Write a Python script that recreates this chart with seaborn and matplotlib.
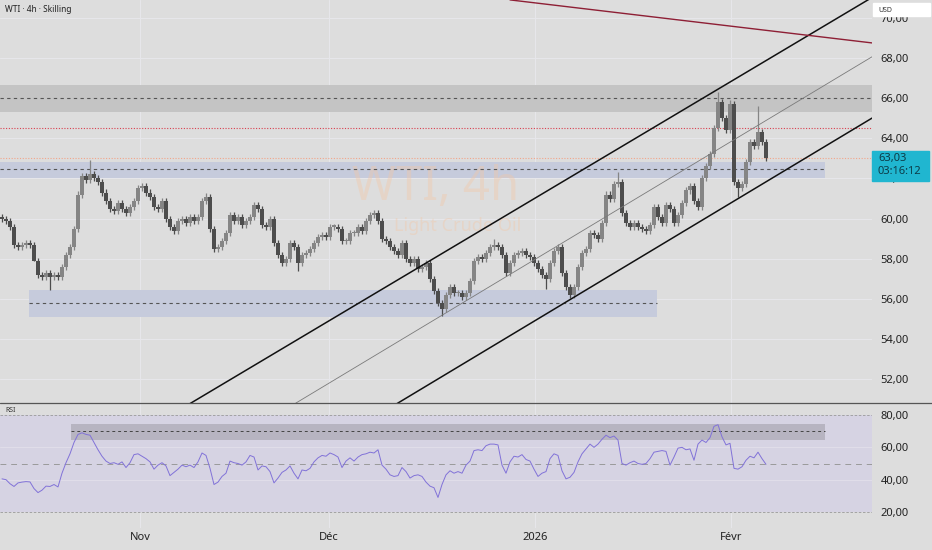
import numpy as np
import pandas as pd
import matplotlib
matplotlib.use("Agg")
import matplotlib.pyplot as plt
import seaborn as sns
from matplotlib.patches import Rectangle
from matplotlib.lines import Line2D

closes = [
    60.0, 59.9, 59.6, 58.7, 58.6, 58.7, 58.8, 58.7, 57.9, 57.2,
    57.1, 57.3, 57.1, 57.2, 57.1, 57.6, 58.2, 58.6, 59.5, 61.2,
    62.1, 61.9, 62.2, 62.0, 61.8, 61.3, 60.9, 60.5, 60.4, 60.8,
    60.5, 60.3, 60.6, 60.9, 61.5, 61.6, 61.3, 61.1, 60.6, 60.5,
    60.9, 60.0, 59.6, 59.4, 59.9, 60.0, 59.8, 60.1, 59.9, 60.1,
    60.9, 61.1, 59.5, 58.5, 58.6, 58.9, 59.3, 60.2, 59.9, 60.1,
    59.7, 59.9, 60.1, 60.7, 60.5, 59.7, 59.6, 60.0, 58.8, 58.2,
    57.8, 58.0, 58.8, 58.6, 57.8, 58.2, 58.3, 58.5, 58.8, 59.1,
    59.2, 59.1, 59.6, 59.6, 59.5, 58.9, 58.9, 59.3, 59.3, 59.6,
    59.4, 59.9, 60.2, 60.3, 59.9, 59.0, 58.9, 58.6, 58.4, 58.2,
    58.8, 58.0, 57.8, 58.0, 57.5, 57.6, 57.8, 57.0, 56.4, 55.8,
    55.5, 56.2, 56.6, 56.3, 56.3, 56.1, 56.3, 56.9, 57.9, 58.1,
    58.0, 58.3, 58.6, 58.7, 58.6, 58.2, 57.3, 57.8, 58.2, 58.3,
    58.4, 58.2, 58.1, 57.8, 57.5, 57.2, 57.0, 57.8, 58.4, 58.6,
    57.3, 56.6, 56.2, 56.6, 57.6, 58.3, 58.5, 59.3, 59.2, 59.0,
    59.8, 61.2, 61.0, 61.7, 61.8, 60.3, 59.8, 59.6, 59.8, 59.6,
    59.5, 59.4, 59.7, 60.6, 60.1, 59.8, 60.7, 60.5, 59.8, 60.2,
    60.8, 61.4, 61.6, 60.9, 60.6, 62.0, 62.6, 63.2, 64.5, 65.8,
    65.0, 64.4, 65.7, 61.8, 61.5, 61.7, 62.8, 63.8, 63.6, 64.3,
    63.8, 63.0,
]
wick_highs = {22: 62.9, 51: 61.3, 123: 59.0, 154: 62.3, 179: 66.3, 182: 65.9, 189: 65.6}
wick_lows = {8: 57.9, 12: 56.45, 74: 57.4, 110: 55.15, 136: 56.5, 184: 61.1}

rsi = [
    40.5, 40.0, 37.5, 35.8, 38.0, 38.5, 38.8, 38.6, 34.5, 32.0,
    33.5, 36.0, 35.8, 37.0, 35.5, 44.0, 50.5, 56.0, 63.0, 68.0,
    69.0, 68.0, 67.5, 63.0, 58.5, 54.5, 51.5, 50.0, 50.5, 49.5,
    51.0, 47.5, 50.5, 55.5, 56.0, 54.5, 53.0, 51.0, 46.5, 49.0,
    50.5, 48.5, 42.5, 44.5, 46.5, 49.0, 48.0, 49.0, 47.5, 51.0,
    56.5, 55.0, 47.0, 37.0, 38.5, 42.0, 44.0, 51.5, 50.5, 50.0,
    49.0, 51.0, 55.0, 54.0, 46.0, 48.5, 48.0, 45.0, 38.0, 41.0,
    44.5, 46.0, 48.5, 44.0, 40.5, 46.0, 45.5, 47.0, 51.0, 53.5,
    55.0, 54.5, 56.5, 55.5, 54.0, 47.5, 51.5, 53.5, 51.5, 54.0,
    55.5, 56.0, 57.0, 56.5, 58.5, 49.0, 46.5, 43.0, 42.0, 42.5,
    47.5, 45.0, 41.0, 42.5, 43.0, 42.0, 38.5, 36.0, 35.0, 29.0,
    37.0, 43.0, 45.5, 44.0, 45.0, 44.0, 49.0, 51.5, 58.0, 58.5,
    58.0, 61.0, 62.0, 62.0, 61.5, 49.0, 44.0, 51.0, 54.5, 54.0,
    55.5, 52.5, 51.5, 46.5, 42.0, 44.0, 45.0, 53.0, 56.0, 55.0,
    45.5, 40.5, 41.5, 44.5, 51.0, 56.0, 59.0, 62.0, 60.0, 62.0,
    65.0, 67.5, 66.0, 67.0, 64.5, 50.0, 49.0, 50.5, 51.5, 50.0,
    49.5, 50.0, 53.0, 57.0, 57.5, 58.0, 57.5, 49.0, 54.0, 59.5,
    60.0, 58.5, 59.0, 52.0, 62.0, 64.5, 63.0, 66.0, 73.0, 74.0,
    66.5, 61.5, 62.5, 47.0, 46.5, 48.0, 52.0, 54.5, 53.5, 57.0,
    53.0, 49.5,
]

month_labels = ["Nov", "Déc", "2026", "Févr"]
month_bars = [34.5, 81.75, 133.25, 182.25]
price_ticks = [52, 54, 56, 58, 60, 62, 64, 66, 68, 70]
rsi_ticks = [20, 40, 60, 80]
last_price = 63.03
countdown = "03:16:12"

# drawn levels / trendlines (bar index, price)
top_zone = (65.3, 66.65, 66.0)
mid_zone = (62.0, 62.8, 62.45, 205.75)
low_zone = (55.1, 56.45, 55.8, 6.75, 163.75)
red_level = 64.5
channel_upper = ([47, 217.5], [50.8, 71.0])
channel_lower = ([98.75, 217.5], [50.8, 65.0])
channel_mid = ([73.25, 217.5], [50.8, 68.05])
resistance = ([127, 217.5], [70.88, 68.74])
rsi_zone = (64.5, 74.5, 70.0, 17.25, 205.75)

sns.set_theme(style="white")
plt.rcParams["font.family"] = ["Noto Sans", "DejaVu Sans"]

bg = "#dddddd"
grid = "#e6e6ea"
fig = plt.figure(figsize=(9.32, 5.5), dpi=100, facecolor=bg)
ax = fig.add_axes([0, 147 / 550, 872 / 932, 403 / 550])
ax_rsi = fig.add_axes([0, 22 / 550, 872 / 932, 125 / 550])
for a in (ax, ax_rsi):
    a.set_facecolor(bg)
    for s in a.spines.values():
        s.set_visible(False)
    a.set_xlim(-0.5, 217.5)
    for xb in month_bars:
        a.axvline(xb, color=grid, lw=0.8, zorder=0)
    a.yaxis.tick_right()
    a.tick_params(axis="y", length=0, pad=6, labelsize=8, labelcolor="#222222")

# --- price pane
ax.set_ylim(50.83, 70.875)
for p in price_ticks:
    ax.axhline(p, color=grid, lw=0.8, zorder=0)
ax.set_yticks(price_ticks, [f"{p:.2f}".replace(".", ",") for p in price_ticks])
ax.set_xticks([])

ax.axhspan(top_zone[0], top_zone[1], color="#c4c4c4", zorder=1, lw=0)
ax.axhline(top_zone[2], color="#555555", lw=0.8, ls=(0, (3, 3)), zorder=2)
ax.fill_between([-0.5, mid_zone[3]], mid_zone[0], mid_zone[1], color="#c6cbdc", zorder=1, lw=0)
ax.plot([-0.5, mid_zone[3]], [mid_zone[2]] * 2, color="#555555", lw=0.8, ls=(0, (3, 3)), zorder=2)
ax.fill_between([low_zone[3], low_zone[4]], low_zone[0], low_zone[1], color="#c6cbdc", zorder=1, lw=0)
ax.plot([low_zone[3], low_zone[4]], [low_zone[2]] * 2, color="#555555", lw=0.8, ls=(0, (3, 3)), zorder=2)
ax.axhline(red_level, color="#d9404f", lw=0.8, ls=(0, (1, 1.5)), zorder=2)
ax.axhline(last_price, color="#f2a58a", lw=0.8, ls=(0, (1, 1.5)), zorder=2)

ax.text(0.5, 0.535, "WTI, 4h", transform=ax.transAxes, ha="center", va="center",
        fontsize=34, color="#f3c7a6", alpha=0.4, zorder=1)
ax.text(0.525, 0.44, "Light Crude Oil", transform=ax.transAxes, ha="center", va="center",
        fontsize=13, color="#f3c7a6", alpha=0.4, zorder=1)

df = pd.DataFrame({"bar": np.arange(len(closes)), "close": closes})
df["open"] = df["close"].shift(1).fillna(df["close"].iloc[0] + 0.1)
df["high"] = df[["open", "close"]].max(axis=1) + 0.15
df["low"] = df[["open", "close"]].min(axis=1) - 0.15
for k, v in wick_highs.items():
    df.loc[k, "high"] = v
for k, v in wick_lows.items():
    df.loc[k, "low"] = v
up = df["close"] >= df["open"]
cols = np.where(up, "#858585", "#4d4d4d")
ax.vlines(df["bar"], df["low"], df["high"], colors=cols, lw=0.9, zorder=3)
body = (df["close"] - df["open"]).where(lambda s: s.abs() > 0.06, 0.06)
ax.bar(df["bar"], body, bottom=df["open"], width=0.8, color=cols, lw=0, zorder=3)

ax.plot(*channel_upper, color="#111111", lw=1.1, zorder=4)
ax.plot(*channel_lower, color="#111111", lw=1.1, zorder=4)
ax.plot(*channel_mid, color="#7a7a7a", lw=0.6, zorder=4)
ax.plot(*resistance, color="#8e1f35", lw=1.0, zorder=4)

# --- RSI pane
ax_rsi.set_ylim(10.1, 87.43)
ax_rsi.fill_between([-0.5, 217.5], 20, 80, color="#d6d3e3", lw=0, zorder=0)
for v in (40, 60):
    ax_rsi.axhline(v, color="#e0dde9", lw=0.8, zorder=1)
for v in (20, 80):
    ax_rsi.axhline(v, color="#9a9a9a", lw=0.6, ls=(0, (3, 2)), zorder=1)
ax_rsi.axhline(50, color="#9a9a9a", lw=0.7, ls=(0, (6, 5)), zorder=1)
ax_rsi.fill_between([rsi_zone[3], rsi_zone[4]], rsi_zone[0], rsi_zone[1], color="#b7b4c1", lw=0, zorder=1)
ax_rsi.plot([rsi_zone[3], rsi_zone[4]], [rsi_zone[2]] * 2, color="#444444", lw=0.7, ls=(0, (3, 3)), zorder=2)
sns.lineplot(x=df["bar"], y=rsi, ax=ax_rsi, color="#8172d8", lw=0.7, zorder=3)
ax_rsi.set_ylabel("")
ax_rsi.set_xlabel("")
ax_rsi.set_yticks(rsi_ticks, [f"{v:.2f}".replace(".", ",") for v in rsi_ticks])
ax_rsi.set_xticks(month_bars, month_labels)
ax_rsi.tick_params(axis="x", length=0, pad=3, labelsize=8, labelcolor="#222222")
for lbl in ax_rsi.get_xticklabels():
    lbl.set_fontweight("bold" if lbl.get_text() == "2026" else "semibold")
ax_rsi.text(0.006, 0.93, "RSI", transform=ax_rsi.transAxes, fontsize=5, color="#333333")

# --- overlays
fig.add_artist(Line2D([0, 1], [147 / 550] * 2, color="#555555", lw=0.9))
fig.text(5 / 932, 1 - 10 / 550, "WTI · 4h · Skilling", fontsize=6, fontweight="bold",
         color="#222222", va="center")
fig.patches.append(Rectangle((873 / 932, 1 - 16 / 550), 57 / 932, 13 / 550,
                             transform=fig.transFigure, color="white", zorder=5))
fig.text(878 / 932, 1 - 10 / 550, "USD", fontsize=5, color="#333333", va="center", zorder=6)
fig.patches.append(Rectangle((872 / 932, 1 - 181 / 550), 57 / 932, 30 / 550,
                             transform=fig.transFigure, color="#20b6d0", zorder=5))
fig.text(878 / 932, 1 - 158 / 550, f"{last_price:.2f}".replace(".", ","), fontsize=8,
         color="#0c3c48", va="center", zorder=6)
fig.text(878 / 932, 1 - 172 / 550, countdown, fontsize=8, color="#0c3c48", va="center", zorder=6)

fig.savefig("out.png", dpi=100, facecolor=bg)
